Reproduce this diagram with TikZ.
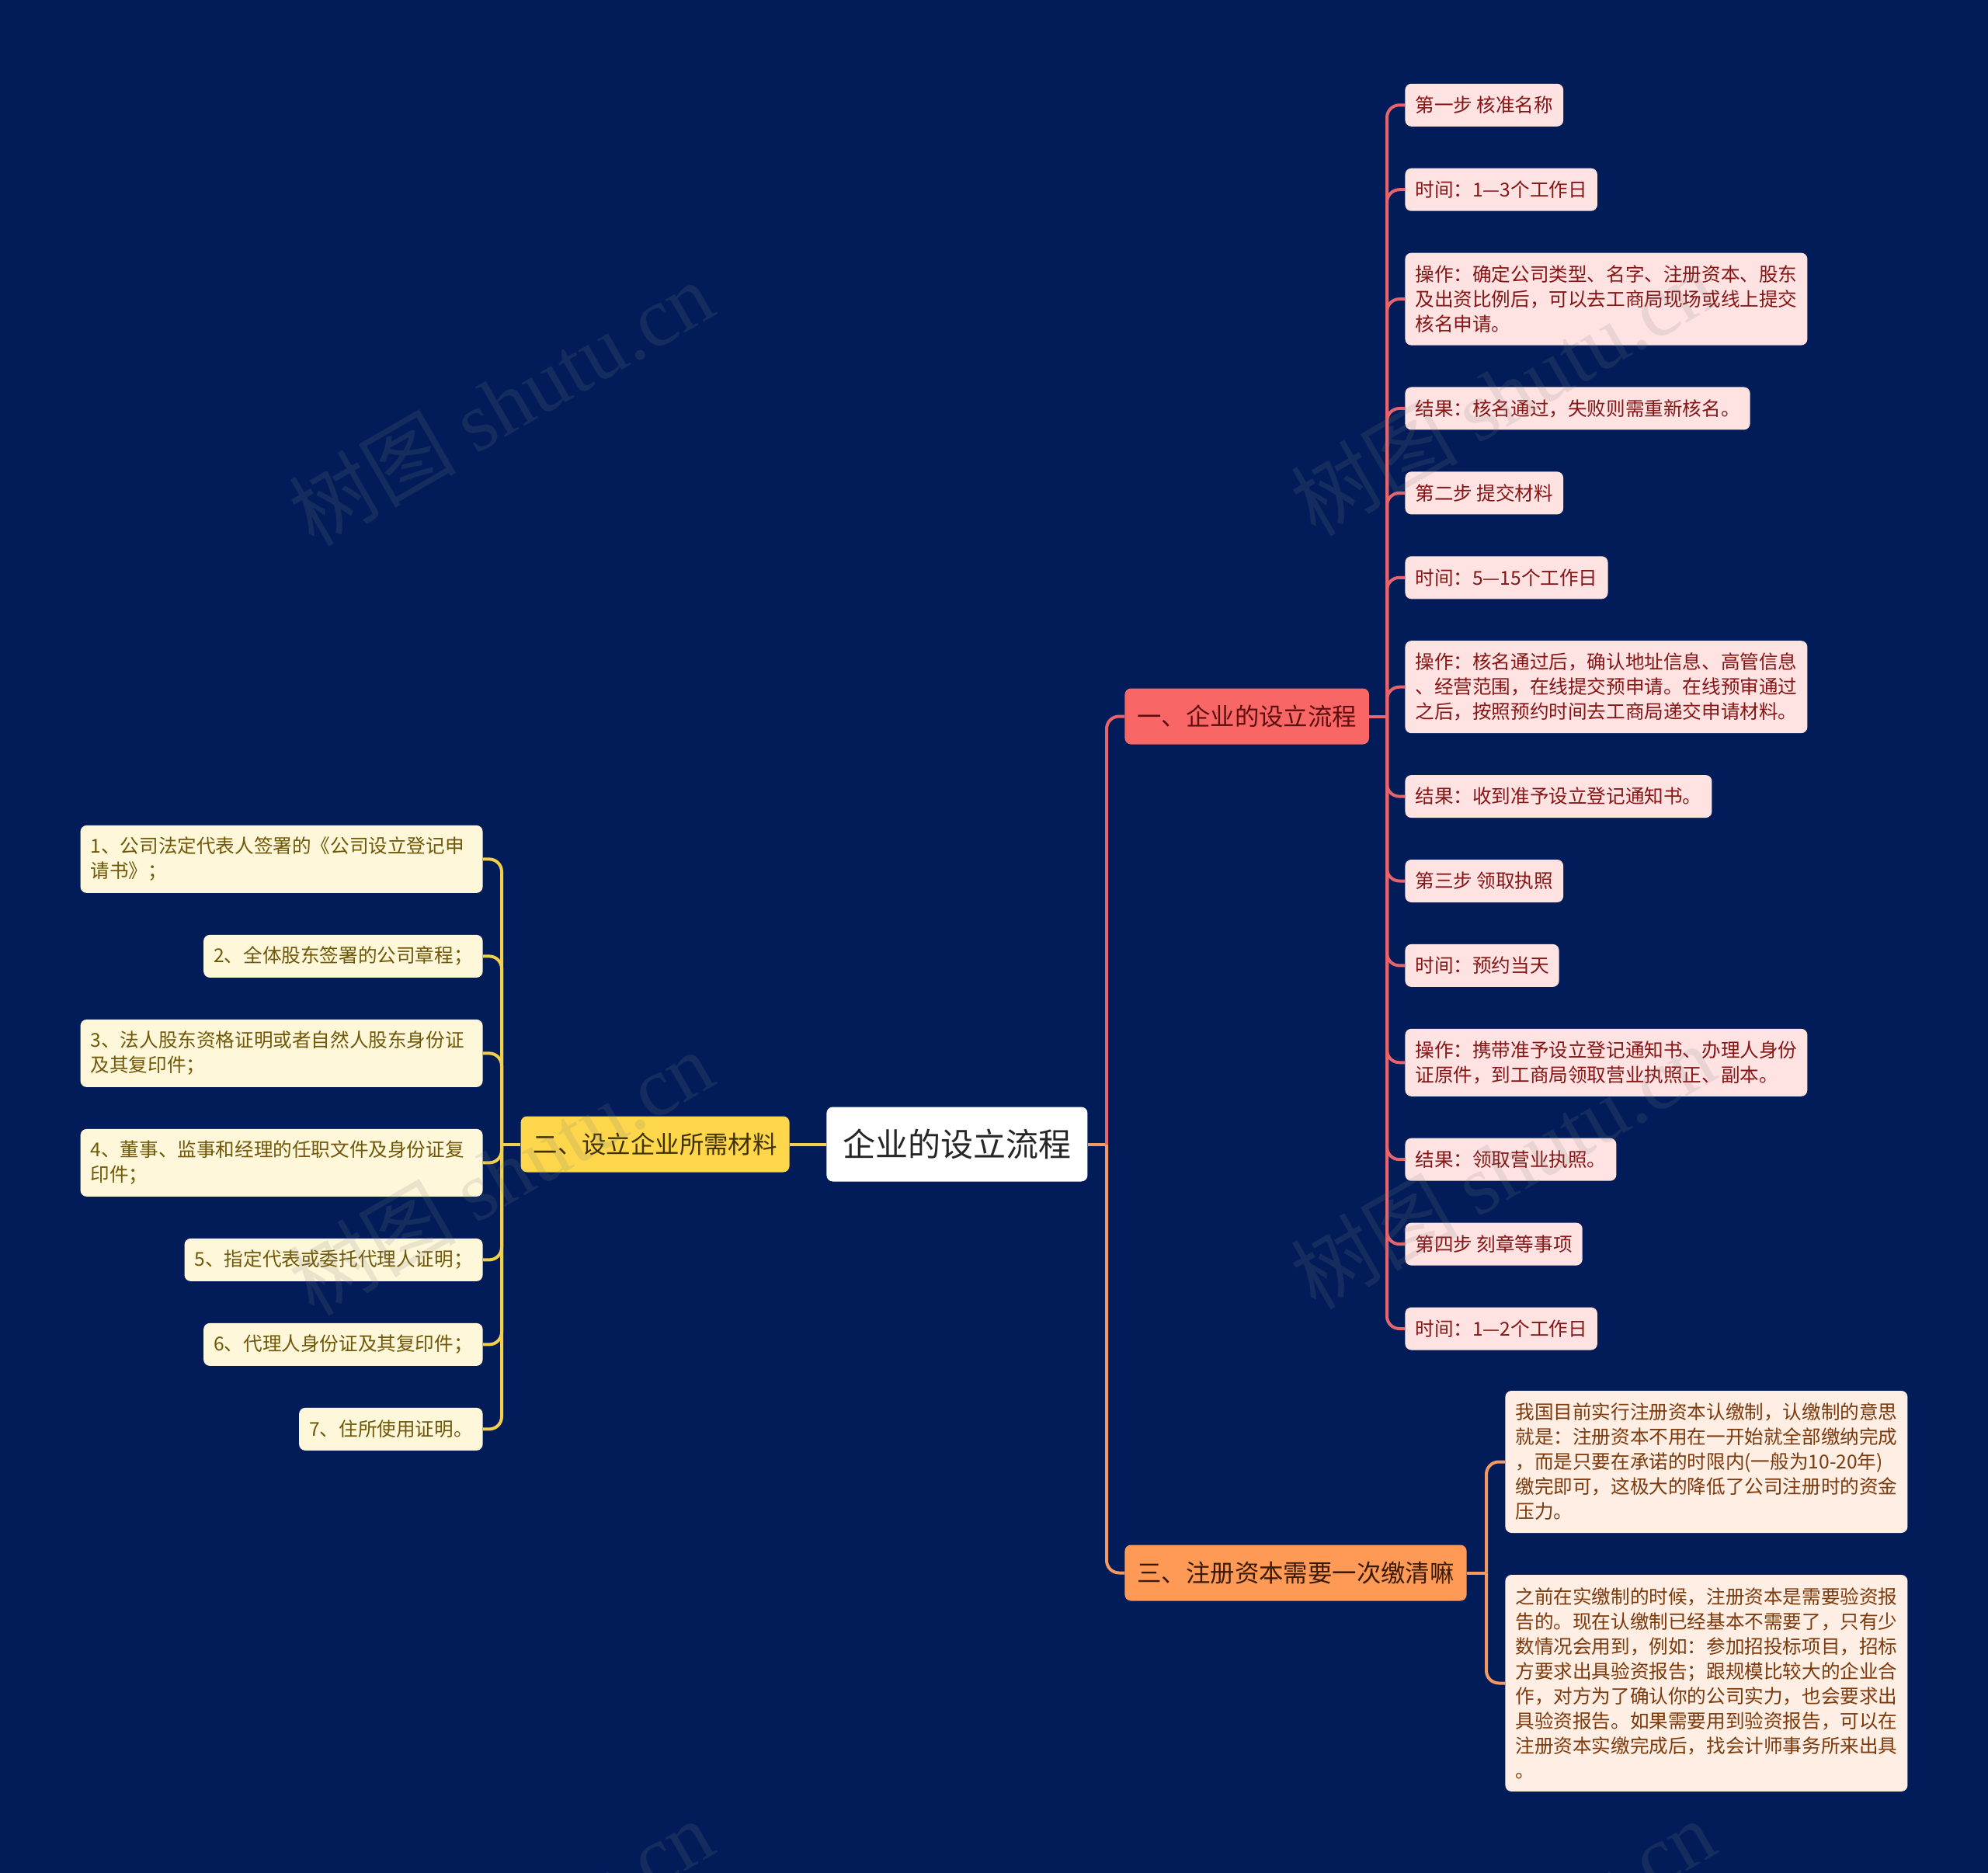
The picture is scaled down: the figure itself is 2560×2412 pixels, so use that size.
\documentclass[tikz,border=0pt]{standalone}
\usepackage{fontspec}
\setmainfont{Noto Sans CJK SC}
\newfontfamily\wmserif{Liberation Serif}
\definecolor{bgc}{HTML}{011C58}
\definecolor{lineA}{HTML}{E8646C}
\definecolor{lineB}{HTML}{F3D04C}
\definecolor{lineC}{HTML}{F29A62}
\definecolor{fillA}{HTML}{F96666}
\definecolor{textA}{HTML}{5E0E0E}
\definecolor{fillB}{HTML}{FDD64C}
\definecolor{textB}{HTML}{3E3000}
\definecolor{fillC}{HTML}{FF9A56}
\definecolor{textC}{HTML}{3A1A05}
\definecolor{leafAfill}{HTML}{FFE3E3}
\definecolor{leafAtext}{HTML}{861515}
\definecolor{leafBfill}{HTML}{FFF7DA}
\definecolor{leafBtext}{HTML}{705808}
\definecolor{leafCfill}{HTML}{FFEEE4}
\definecolor{leafCtext}{HTML}{7C3A0C}
\tikzset{
  basebox/.style={rounded corners=4pt, inner ysep=0pt, align=left},
  rootbox/.style={basebox, fill=white, text=black!85, inner xsep=10.5pt, minimum height=48pt, font=\fontsize{21}{26}\selectfont},
  branchbox/.style={basebox, inner xsep=8pt, minimum height=36pt, font=\fontsize{15.7}{20}\selectfont},
  brA/.style={branchbox, fill=fillA, text=textA},
  brB/.style={branchbox, fill=fillB, text=textB},
  brC/.style={branchbox, fill=fillC, text=textC},
  leafbox/.style={basebox, inner xsep=6.5pt, minimum height={11.5pt+16pt*#1}, font=\fontsize{12.3}{16}\selectfont},
  leafbox/.default=1,
  wrapped/.style={text width=246pt},
  leafA/.style={leafbox=#1, fill=leafAfill, text=leafAtext, anchor=west},
  leafA/.default=1,
  leafB/.style={leafbox=#1, fill=leafBfill, text=leafBtext, anchor=east},
  leafB/.default=1,
  leafC/.style={leafbox=#1, fill=leafCfill, text=leafCtext, anchor=west},
  leafC/.default=1,
  lnA/.style={draw=lineA, line width=2pt},
  lnB/.style={draw=lineB, line width=2pt},
  lnC/.style={draw=lineC, line width=2pt},
  wmark/.style={text=gray, opacity=0.16, font=\fontsize{54}{54}\selectfont, rotate=30},
}
\begin{document}
\begin{tikzpicture}[x=0.5pt,y=-0.5pt]
\fill[bgc] (0,0) rectangle (2560,2412);
\useasboundingbox (0,0) rectangle (2560,2412);

% main nodes
\node[rootbox, anchor=west] (root) at (1064,1473.5) {企业的设立流程};
\node[brA, anchor=west] (b1) at (1448,922.5) {一、企业的设立流程};
\node[brB, anchor=east] (b2) at (1017,1473.5) {二、设立企业所需材料};
\node[brC, anchor=west] (b3) at (1448,2025.5) {三、注册资本需要一次缴清嘛};

% branch 1 leaves
\node[leafA] (r1) at (1809,135.3) {第一步 核准名称};
\node[leafA] (r2) at (1809,244.2) {时间：1—3个工作日};
\node[leafA=3, wrapped] (r3) at (1809,385.1) {操作：确定公司类型、名字、注册资本、股东\\及出资比例后，可以去工商局现场或线上提交\\核名申请。};
\node[leafA] (r4) at (1809,526.0) {结果：核名通过，失败则需重新核名。};
\node[leafA] (r5) at (1809,634.9) {第二步 提交材料};
\node[leafA] (r6) at (1809,743.8) {时间：5—15个工作日};
\node[leafA=3, wrapped] (r7) at (1809,884.7) {操作：核名通过后，确认地址信息、高管信息\\、经营范围，在线提交预申请。在线预审通过\\之后，按照预约时间去工商局递交申请材料。};
\node[leafA] (r8) at (1809,1025.6) {结果：收到准予设立登记通知书。};
\node[leafA] (r9) at (1809,1134.5) {第三步 领取执照};
\node[leafA] (r10) at (1809,1243.4) {时间：预约当天};
\node[leafA=2, wrapped] (r11) at (1809,1368.3) {操作：携带准予设立登记通知书、办理人身份\\证原件，到工商局领取营业执照正、副本。};
\node[leafA] (r12) at (1809,1493.2) {结果：领取营业执照。};
\node[leafA] (r13) at (1809,1602.1) {第四步 刻章等事项};
\node[leafA] (r14) at (1809,1711.0) {时间：1—2个工作日};

% branch 2 leaves
\node[leafB=2, wrapped] (q1) at (622,1106.4) {1、公司法定代表人签署的《公司设立登记申\\请书》；};
\node[leafB] (q2) at (622,1231.4) {2、全体股东签署的公司章程；};
\node[leafB=2, wrapped] (q3) at (622,1356.4) {3、法人股东资格证明或者自然人股东身份证\\及其复印件；};
\node[leafB=2, wrapped] (q4) at (622,1497.4) {4、董事、监事和经理的任职文件及身份证复\\印件；};
\node[leafB] (q5) at (622,1622.4) {5、指定代表或委托代理人证明；};
\node[leafB] (q6) at (622,1731.4) {6、代理人身份证及其复印件；};
\node[leafB] (q7) at (622,1840.4) {7、住所使用证明。};

% branch 3 leaves
\node[leafC=5, wrapped] (p1) at (1938,1882.5) {我国目前实行注册资本认缴制，认缴制的意思\\就是：注册资本不用在一开始就全部缴纳完成\\，而是只要在承诺的时限内(一般为10-20年)\\缴完即可，这极大的降低了公司注册时的资金\\压力。};
\node[leafC=8, wrapped] (p2) at (1938,2167.5) {之前在实缴制的时候，注册资本是需要验资报\\告的。现在认缴制已经基本不需要了，只有少\\数情况会用到，例如：参加招投标项目，招标\\方要求出具验资报告；跟规模比较大的企业合\\作，对方为了确认你的公司实力，也会要求出\\具验资报告。如果需要用到验资报告，可以在\\注册资本实缴完成后，找会计师事务所来出具\\。};

% junctions
\coordinate (j0) at (1425,1473.5);
\coordinate (j1) at (1786,922.5);
\coordinate (j2) at (646,1473.5);
\coordinate (j3) at (1914,2025.5);

% connectors
\draw[lnC] (root.east) -- (j0);
\draw[lnA, rounded corners=8pt] (j0) |- (b1.west);
\draw[lnC, rounded corners=8pt] (j0) |- (b3.west);
\draw[lnB] (root.west) -- (b2.east);

\draw[lnA] (b1.east) -- (j1);
\foreach \i in {1,...,14} \draw[lnA, rounded corners=8pt] (j1) |- (r\i.west);

\draw[lnB] (b2.west) -- (j2);
\foreach \i in {1,...,7} \draw[lnB, rounded corners=8pt] (j2) |- (q\i.east);

\draw[lnC] (b3.east) -- (j3);
\foreach \i in {1,2} \draw[lnC, rounded corners=8pt] (j3) |- (p\i.west);

% watermarks
\node[wmark] (wm1) at (645,519) {树图 {\wmserif shutu.cn}};
\node[wmark] (wm2) at (1935,506) {树图 {\wmserif shutu.cn}};
\node[wmark] (wm3) at (645,1510) {树图 {\wmserif shutu.cn}};
\node[wmark] (wm4) at (1935,1502) {树图 {\wmserif shutu.cn}};
\node[wmark] (wm5) at (645,2500) {树图 {\wmserif shutu.cn}};
\node[wmark] (wm6) at (1935,2500) {树图 {\wmserif shutu.cn}};
\end{tikzpicture}
\end{document}
